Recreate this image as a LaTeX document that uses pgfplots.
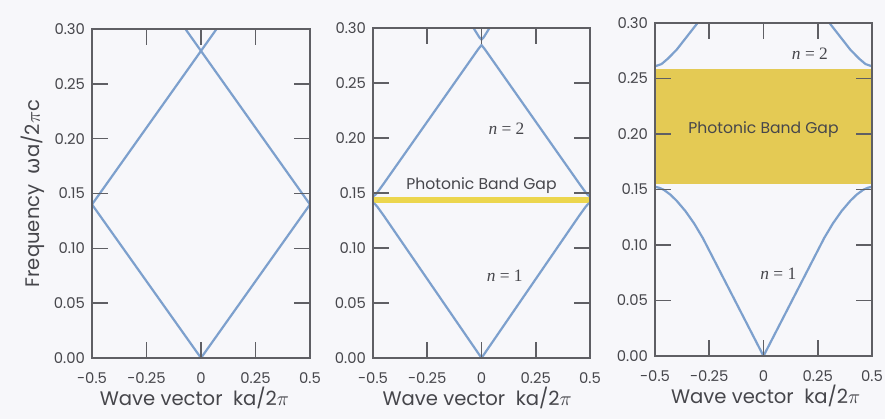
\documentclass[border=0pt]{standalone}
\usepackage{pgfplots}
\pgfplotsset{compat=1.18}
\usepackage{fontspec}
\setmainfont{Poppins}
\newfontfamily\tnr{Liberation Serif}
\newfontfamily\dejavu{DejaVu Sans}
\definecolor{bg}{RGB}{247,247,250}
\definecolor{lineblue}{RGB}{125,160,205}
\definecolor{gapyellow}{RGB}{228,202,84}
\definecolor{gapline}{RGB}{236,214,78}
\definecolor{axisgray}{RGB}{95,95,100}
\definecolor{textgray}{RGB}{70,70,75}
\pgfplotsset{
 bl/.style={lineblue, line width=1.1pt, mark=none},
 panel/.style={
  scale only axis, anchor=south west,
  xmin=-0.5, xmax=0.5, ymin=0, ymax=0.30,
  xtick={-0.5,-0.25,0,0.25,0.5},
  xticklabels={-0.5,-0.25,0,0.25,0.5},
  ytick={0,0.05,0.10,0.15,0.20,0.25,0.30},
  yticklabels={0.00,0.05,0.10,0.15,0.20,0.25,0.30},
  tick align=inside, major tick length=8pt,
  tick style={axisgray, line width=0.8pt},
  axis line style={axisgray, line width=0.8pt},
  ticklabel style={font=\fontsize{7.4}{9}\selectfont, text=textgray},
  xticklabel style={yshift=-4pt},
  xlabel={Wave vector\ \ ka/2$\pi$},
  xlabel style={font=\fontsize{9.8}{12}\selectfont, text=textgray, at={(axis description cs:0.48,-0.12)}, anchor=center},
  axis on top,
}}
\begin{document}
\begin{tikzpicture}
\path[use as bounding box, fill=bg] (0,0) rectangle (442.5pt,209.5pt);
% Panel 1
\begin{axis}[panel, at={(46pt,30.5pt)}, width=109pt, height=164.5pt,
  ylabel={Frequency\ \ {\dejavu ω}a/2$\pi$c},
  ylabel style={font=\fontsize{9.8}{12}\selectfont, text=textgray, at={(axis description cs:-0.27,0.50)}, anchor=center},
  xlabel style={at={(axis description cs:0.47,-0.12)}}]
\addplot[bl] coordinates {(-0.5,0.14) (0,0) (0.5,0.14)};
\addplot[bl] coordinates {(-0.5,0.14) (0.0714,0.30)};
\addplot[bl] coordinates {(0.5,0.14) (-0.0714,0.30)};
\end{axis}
% Panel 2
\begin{axis}[panel, at={(186.5pt,30.5pt)}, width=108.5pt, height=165pt]
\addplot[draw=none, fill=gapline] coordinates {(-0.5,0.1413) (0.5,0.1413) (0.5,0.1467) (-0.5,0.1467)} -- cycle;
\addplot[bl] coordinates {(-0.5,0.141) (-0.49,0.1398) (-0.48,0.1375) (-0.45,0.1293) (0,0) (0.45,0.1293) (0.48,0.1375) (0.49,0.1398) (0.5,0.141)};
\addplot[bl] coordinates {(-0.5,0.147) (-0.49,0.1482) (-0.48,0.1505) (-0.45,0.1587) (-0.015,0.2808) (0,0.2845) (0.015,0.2808) (0.45,0.1587) (0.48,0.1505) (0.49,0.1482) (0.5,0.147)};
\addplot[bl] coordinates {(-0.04,0.301) (-0.01,0.2915) (0,0.2895) (0.01,0.2915) (0.04,0.301)};
\node[font=\fontsize{7.8}{9}\selectfont, text=textgray] at (axis cs:0,0.157) {Photonic Band Gap};
\node[font=\fontsize{8.7}{10}\selectfont, text=textgray] at (axis cs:0.115,0.208) {\tnr\textit{n} = 2};
\node[font=\fontsize{8.7}{10}\selectfont, text=textgray] at (axis cs:0.107,0.075) {\tnr\textit{n} = 1};
\end{axis}
% Panel 3
\begin{axis}[panel, at={(327.5pt,31.5pt)}, width=108.5pt, height=166.5pt,
  xlabel style={at={(axis description cs:0.51,-0.12)}}]
\addplot[draw=none, fill=gapyellow] coordinates {(-0.5,0.155) (0.5,0.155) (0.5,0.259) (-0.5,0.259)} -- cycle;
\addplot[bl] coordinates {(-0.5,0.1525) (-0.48,0.1515) (-0.46,0.1498) (-0.43,0.1455) (-0.40,0.1398) (-0.36,0.1306) (-0.32,0.1195) (-0.28,0.1064) (-0.2,0.076) (-0.1,0.038) (0,0) (0.1,0.038) (0.2,0.076) (0.28,0.1064) (0.32,0.1195) (0.36,0.1306) (0.40,0.1398) (0.43,0.1455) (0.46,0.1498) (0.48,0.1515) (0.5,0.1525)};
\addplot[bl] coordinates {(-0.5,0.261) (-0.47,0.263) (-0.44,0.268) (-0.40,0.276) (-0.36,0.286) (-0.32,0.296) (-0.30,0.301)};
\addplot[bl] coordinates {(0.5,0.261) (0.47,0.263) (0.44,0.268) (0.40,0.276) (0.36,0.286) (0.32,0.296) (0.30,0.301)};
\node[font=\fontsize{7.8}{9}\selectfont, text=textgray] at (axis cs:0,0.204) {Photonic Band Gap};
\node[font=\fontsize{8.7}{10}\selectfont, text=textgray] at (axis cs:0.214,0.272) {\tnr\textit{n} = 2};
\node[font=\fontsize{8.7}{10}\selectfont, text=textgray] at (axis cs:0.068,0.074) {\tnr\textit{n} = 1};
\end{axis}
\end{tikzpicture}
\end{document}
